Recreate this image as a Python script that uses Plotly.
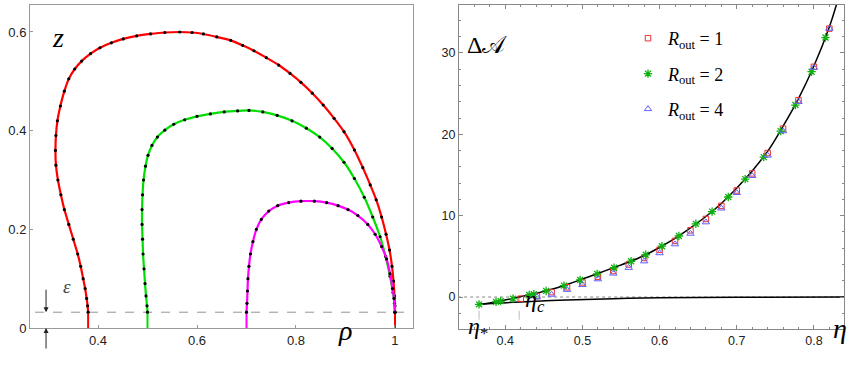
import plotly.graph_objects as go

# ---- left panel: profiles z(rho) ----
eps = 0.032
rho_in = [0.38, 0.5, 0.7]
seg_colors = ["#ff0000", "#00e000", "#ff00ff"]

red_rho = [0.380, 0.379, 0.377, 0.374, 0.370, 0.365, 0.359, 0.350, 0.341, 0.332, 0.325, 0.319,
           0.315, 0.314, 0.315, 0.318, 0.324, 0.332, 0.341, 0.353, 0.367, 0.385, 0.404, 0.427,
           0.451, 0.478, 0.506, 0.535, 0.565, 0.590, 0.613, 0.640, 0.668, 0.692, 0.715, 0.740,
           0.765, 0.788, 0.810, 0.833, 0.855, 0.877, 0.897, 0.918, 0.935, 0.950, 0.962, 0.973,
           0.982, 0.989, 0.994, 0.997, 0.999, 1.000, 1.000]
red_z = [0.032, 0.045, 0.060, 0.080, 0.100, 0.125, 0.150, 0.180, 0.210, 0.240, 0.270, 0.300,
         0.330, 0.360, 0.390, 0.420, 0.450, 0.480, 0.505, 0.525, 0.541, 0.556, 0.568, 0.578,
         0.586, 0.592, 0.596, 0.599, 0.600, 0.599, 0.596, 0.590, 0.583, 0.573, 0.562, 0.548,
         0.533, 0.516, 0.498, 0.476, 0.452, 0.425, 0.398, 0.361, 0.325, 0.290, 0.260, 0.225,
         0.190, 0.158, 0.125, 0.095, 0.065, 0.045, 0.032]

green_rho = [0.500, 0.499, 0.497, 0.495, 0.493, 0.491, 0.490, 0.489, 0.489, 0.490, 0.492, 0.496,
             0.501, 0.509, 0.520, 0.535, 0.553, 0.575, 0.600, 0.627, 0.655, 0.682, 0.705, 0.733,
             0.762, 0.792, 0.821, 0.848, 0.873, 0.897, 0.918, 0.938, 0.955, 0.970, 0.981, 0.990,
             0.996, 0.999, 1.000]
green_z = [0.032, 0.045, 0.065, 0.090, 0.120, 0.150, 0.180, 0.210, 0.240, 0.270, 0.300, 0.328,
           0.350, 0.370, 0.387, 0.401, 0.413, 0.422, 0.429, 0.434, 0.438, 0.440, 0.441, 0.438,
           0.431, 0.420, 0.405, 0.387, 0.364, 0.336, 0.303, 0.265, 0.225, 0.185, 0.145, 0.105,
           0.072, 0.050, 0.032]

mag_rho = [0.700, 0.701, 0.702, 0.703, 0.705, 0.708, 0.713, 0.720, 0.730, 0.745, 0.763, 0.785,
           0.810, 0.837, 0.862, 0.885, 0.905, 0.925, 0.945, 0.960, 0.973, 0.983, 0.990, 0.995,
           0.998, 1.000]
mag_z = [0.032, 0.050, 0.075, 0.100, 0.125, 0.150, 0.175, 0.200, 0.220, 0.237, 0.248, 0.254,
         0.257, 0.257, 0.254, 0.248, 0.240, 0.228, 0.210, 0.190, 0.165, 0.140, 0.110, 0.080,
         0.060, 0.032]

# ---- right panel: Delta A(eta) ----
eta_star = 0.366
eta_c = 0.418

curve_eta = [0.366, 0.39, 0.418, 0.44, 0.46, 0.48, 0.50, 0.52, 0.54, 0.56, 0.58, 0.60, 0.62,
             0.64, 0.66, 0.68, 0.70, 0.72, 0.74, 0.76, 0.78, 0.80, 0.82, 0.83]
curve_up = [-0.95, -0.55, 0.0, 0.45, 0.95, 1.55, 2.2, 2.9, 3.6, 4.3, 5.1, 6.1, 7.2,
            8.5, 9.9, 11.5, 13.4, 15.5, 17.9, 21.0, 24.4, 28.4, 33.2, 36.2]
low_eta = [0.366, 0.42, 0.48, 0.54, 0.60, 0.70, 0.84]
low_val = [-0.9, -0.6, -0.35, -0.2, -0.1, -0.03, 0.0]

r1_eta = [0.42, 0.441, 0.46, 0.48, 0.50, 0.52, 0.54, 0.56, 0.58, 0.60, 0.62, 0.64, 0.66,
          0.68, 0.70, 0.72, 0.74, 0.76, 0.78, 0.80, 0.82]
r1_val = [-0.2, 0.1, 0.6, 1.2, 1.8, 2.5, 3.2, 4.0, 4.8, 5.8, 6.9, 8.2, 9.6,
          11.2, 13.1, 15.2, 17.7, 20.7, 24.2, 28.3, 33.0]
r2_eta = [0.366, 0.388, 0.394, 0.41, 0.431, 0.437, 0.453, 0.476, 0.497, 0.519, 0.541, 0.563,
          0.582, 0.603, 0.625, 0.647, 0.668, 0.689, 0.711, 0.735, 0.757, 0.776, 0.797, 0.815]
r2_val = [-0.9, -0.6, -0.5, -0.2, 0.25, 0.35, 0.75, 1.4, 2.1, 2.85, 3.6, 4.4,
          5.2, 6.25, 7.5, 9.0, 10.5, 12.3, 14.5, 17.2, 20.4, 23.6, 27.7, 31.9]
r4_eta = [0.441, 0.46, 0.48, 0.50, 0.52, 0.54, 0.56, 0.58, 0.60, 0.62, 0.64, 0.66,
          0.68, 0.70, 0.72, 0.74, 0.76, 0.78, 0.80, 0.82]
r4_val = [0.0, 0.3, 0.9, 1.5, 2.2, 2.9, 3.6, 4.4, 5.4, 6.5, 7.8, 9.2,
          10.9, 12.8, 14.9, 17.4, 20.4, 24.0, 28.2, 33.0]

W, H = 859, 366
ML, MR, MT, MB = 30, 15, 5, 37
PW, PH = W - ML - MR, H - MT - MB


def px(x):
    return (x - ML) / PW


def py(y):
    return (H - MB - y) / PH


fig = go.Figure()

# colored stems from z=0 to eps
for r, c in zip(rho_in + [1.0], seg_colors + ["#ff0000"]):
    fig.add_trace(go.Scatter(x=[r, r], y=[0, eps], mode="lines", line=dict(color=c, width=2),
                             showlegend=False, xaxis="x", yaxis="y"))

fig.add_trace(go.Scatter(x=[0.2, 1.1], y=[eps, eps], mode="lines",
                         line=dict(color="#777", width=0.8, dash="dash"),
                         showlegend=False, xaxis="x", yaxis="y"))

for xs, zs, c in [(red_rho, red_z, "#ff0000"), (green_rho, green_z, "#00e000"),
                  (mag_rho, mag_z, "#ff00ff")]:
    fig.add_trace(go.Scatter(x=xs, y=zs, mode="lines",
                             line=dict(color=c, width=2.2, shape="spline", smoothing=0.7),
                             showlegend=False, xaxis="x", yaxis="y"))
    fig.add_trace(go.Scatter(x=xs, y=zs, mode="markers", marker=dict(color="black", size=3.2),
                             showlegend=False, xaxis="x", yaxis="y"))

# right panel
fig.add_trace(go.Scatter(x=[0.3, 0.9], y=[0, 0], mode="lines",
                         line=dict(color="#888", width=1, dash="dot"),
                         showlegend=False, xaxis="x2", yaxis="y2"))
fig.add_trace(go.Scatter(x=[eta_star, eta_star], y=[-5, low_val[0]], mode="lines",
                         line=dict(color="#bbb", width=1, dash="dash"),
                         showlegend=False, xaxis="x2", yaxis="y2"))
fig.add_trace(go.Scatter(x=[eta_c, eta_c], y=[-5, 0], mode="lines",
                         line=dict(color="#bbb", width=1, dash="dash"),
                         showlegend=False, xaxis="x2", yaxis="y2"))
fig.add_trace(go.Scatter(x=curve_eta, y=curve_up, mode="lines",
                         line=dict(color="black", width=1.5, shape="spline"),
                         showlegend=False, xaxis="x2", yaxis="y2"))
fig.add_trace(go.Scatter(x=low_eta, y=low_val, mode="lines",
                         line=dict(color="black", width=1.5, shape="spline"),
                         showlegend=False, xaxis="x2", yaxis="y2"))

fig.add_trace(go.Scatter(x=r1_eta, y=r1_val, mode="markers", name="<i>R</i><sub>out</sub> = 1",
                         marker=dict(symbol="square-open", color="#e83030", size=5.5, line=dict(width=1)),
                         legendgroup="a", xaxis="x2", yaxis="y2"))
fig.add_trace(go.Scatter(x=r2_eta, y=r2_val, mode="markers", name="<i>R</i><sub>out</sub> = 2",
                         marker=dict(symbol="asterisk-open", color="#10b010", size=7,
                                     line=dict(width=1.3, color="#10b010")),
                         legendgroup="b", xaxis="x2", yaxis="y2"))
fig.add_trace(go.Scatter(x=r4_eta, y=r4_val, mode="markers", name="<i>R</i><sub>out</sub> = 4",
                         marker=dict(symbol="triangle-up-open", color="#6060ff", size=6.5, line=dict(width=1)),
                         legendgroup="c", xaxis="x2", yaxis="y2"))

tickfont = dict(family="Liberation Sans, Arial", size=13, color="#222")
tickfont2 = dict(family="Liberation Sans, Arial", size=12.5, color="#222")
fig.update_layout(
    width=W, height=H, margin=dict(l=ML, r=MR, t=MT, b=MB),
    plot_bgcolor="white", paper_bgcolor="white",
    xaxis=dict(domain=[0, px(413)], range=[0.2626, 1.0364], showgrid=False, zeroline=False,
               showline=True, mirror=True, linecolor="#999", linewidth=1, automargin=False,
               ticks="inside", ticklen=3, tickcolor="#999",
               tickvals=[0.4, 0.6, 0.8, 1.0], ticktext=["0.4", "0.6", "0.8", "1"], tickfont=tickfont),
    yaxis=dict(domain=[py(328), 1], range=[0, 0.6547], showgrid=False, zeroline=False,
               showline=True, mirror=True, linecolor="#999", linewidth=1, automargin=False,
               ticks="inside", ticklen=3, tickcolor="#999",
               tickvals=[0, 0.2, 0.4, 0.6], ticktext=["0", "0.2", "0.4", "0.6"], tickfont=tickfont),
    xaxis2=dict(domain=[px(459), 1], range=[0.34, 0.839], anchor="y2", showgrid=False, zeroline=False,
                showline=True, mirror="ticks", linecolor="#888", linewidth=1, automargin=False,
                ticks="inside", ticklen=4, tickcolor="#888",
                tickvals=[0.4, 0.5, 0.6, 0.7, 0.8], tickfont=tickfont2,
                minor=dict(dtick=0.02, tick0=0.4, ticks="inside", ticklen=2, tickcolor="#888")),
    yaxis2=dict(domain=[0, 1], range=[-3.93, 35.9], anchor="x2", showgrid=False, zeroline=False,
                showline=True, mirror="ticks", linecolor="#888", linewidth=1, automargin=False,
                ticks="inside", ticklen=4, tickcolor="#888",
                tickvals=[0, 10, 20, 30], tickfont=tickfont2,
                minor=dict(dtick=2, tick0=0, ticks="inside", ticklen=2, tickcolor="#888")),
    legend=dict(x=px(628), y=py(20), xanchor="left", yanchor="top", bgcolor="rgba(0,0,0,0)",
                font=dict(family="Liberation Serif, DejaVu Serif", size=18, color="black"),
                tracegroupgap=9, itemwidth=30),
)

serif = "Liberation Serif, DejaVu Serif"
ann = [
    dict(x=px(50), y=py(20), text="<i>z</i>", font=dict(family=serif, size=28, color="black")),
    dict(x=px(345), y=py(348), text="<i>ρ</i>", font=dict(family=serif, size=28, color="black")),
    dict(x=px(61), y=py(299), text="<i>ε</i>", font=dict(family=serif, size=19, color="#444")),
    dict(x=px(487), y=py(30), text="Δ𝒜", font=dict(family=serif, size=24, color="black")),
    dict(x=px(849), y=py(346), text="<i>η</i>", font=dict(family=serif, size=28, color="black")),
    dict(x=px(478), y=py(345), text="<i>η</i><sub>*</sub>", font=dict(family=serif, size=24, color="black")),
    dict(x=px(535), y=py(318), text="<i>η</i><sub><i>c</i></sub>", font=dict(family=serif, size=24, color="black")),
]
for a in ann:
    fig.add_annotation(xref="paper", yref="paper", showarrow=False, **a)

# epsilon arrows
fig.add_annotation(x=0.295, y=eps, xref="x", yref="y", ax=0, ay=-24, text="", showarrow=True,
                   arrowhead=2, arrowsize=1, arrowwidth=1, arrowcolor="#222")
fig.add_annotation(x=0.295, y=0, xref="x", yref="y", ax=0, ay=22, text="", showarrow=True,
                   arrowhead=2, arrowsize=1, arrowwidth=1, arrowcolor="#222")

# the page body has a default 8px margin; drop it so the figure sits at the window corner
fig.write_html("out.html", config={"displayModeBar": False},
               post_script="document.body.style.margin='0';")
